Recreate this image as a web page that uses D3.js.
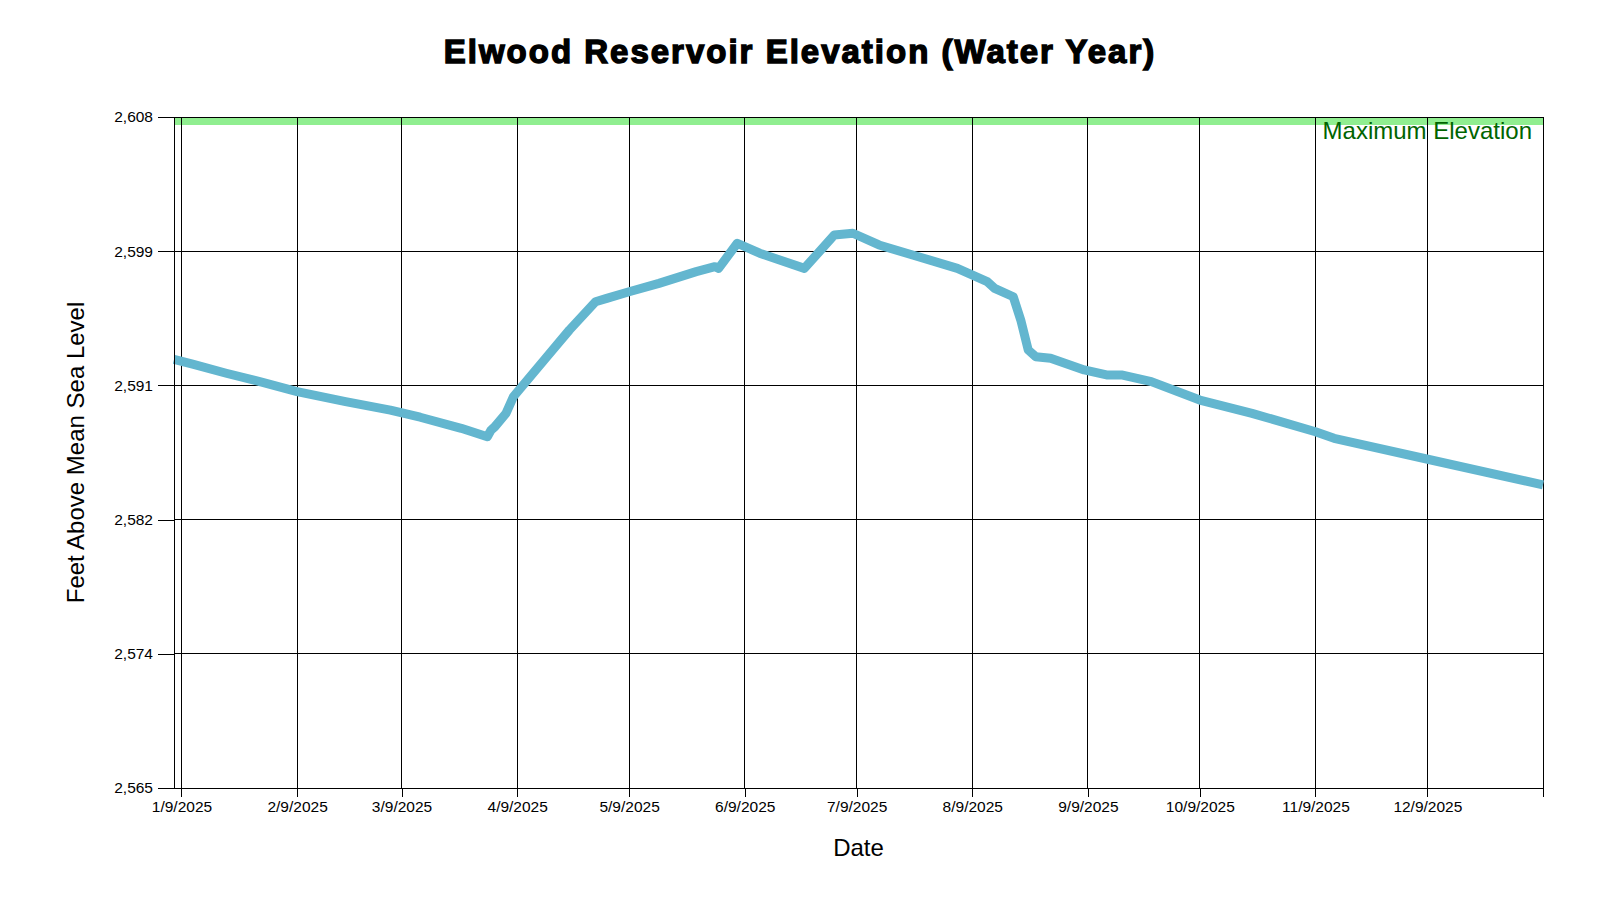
<!DOCTYPE html>
<html lang="en">
<head>
    <meta charset="utf-8">
    <script src="https://d3js.org/d3.v7.min.js"></script>
    <style>
        body { margin: 0; background: #fff; }
        text { font-family: "Liberation Sans", Arial, sans-serif; }
    </style>
</head>
<body>
    <div id="chart"></div>
    <script>
        // elevation readings (feet above mean sea level)
        const dates = ["2025-01-07", "2025-01-12", "2025-01-21", "2025-01-30", "2025-02-09", "2025-02-22",
            "2025-03-06", "2025-03-14", "2025-03-25", "2025-04-01", "2025-04-02", "2025-04-03", "2025-04-06",
            "2025-04-08", "2025-04-17", "2025-04-23", "2025-04-30", "2025-05-03", "2025-05-09", "2025-05-17",
            "2025-05-27", "2025-06-01", "2025-06-02", "2025-06-07", "2025-06-13", "2025-06-25", "2025-07-03",
            "2025-07-08", "2025-07-15", "2025-07-24", "2025-08-05", "2025-08-13", "2025-08-15", "2025-08-20",
            "2025-08-22", "2025-08-24", "2025-08-26", "2025-08-30", "2025-09-08", "2025-09-14", "2025-09-18",
            "2025-09-26", "2025-10-09", "2025-10-23", "2025-11-09", "2025-11-14", "2025-12-10", "2026-01-09"];
        const elevations = [2592.47, 2592.17, 2591.58, 2591.04, 2590.40, 2589.76,
            2589.22, 2588.76, 2588.05, 2587.51, 2587.94, 2588.15, 2589.01,
            2590.08, 2592.64, 2594.35, 2596.16, 2596.38, 2596.80, 2597.34,
            2598.09, 2598.41, 2598.30, 2599.91, 2599.27, 2598.30, 2600.44,
            2600.55, 2599.80, 2599.16, 2598.30, 2597.45, 2597.02, 2596.48,
            2594.99, 2593.07, 2592.64, 2592.54, 2591.79, 2591.47, 2591.47,
            2591.04, 2589.86, 2589.01, 2587.83, 2587.41, 2586.02, 2584.42];

        // axis ticks
        const xTickDates = ["2025-01-09", "2025-02-09", "2025-03-09", "2025-04-09", "2025-05-09", "2025-06-09",
            "2025-07-09", "2025-08-09", "2025-09-09", "2025-10-09", "2025-11-09", "2025-12-09"];
        const yTickValues = [2565, 2573.6, 2582.2, 2590.8, 2599.4, 2608];
        const yDomain = [2565, 2608];
        const maxElevation = 2608;

        const parse = d3.timeParse("%Y-%m-%d");
        const data = dates.map((d, i) => ({ date: parse(d), value: elevations[i] }));

        // sets the dimensions and margins of the graph
        const margin = { top: 117, right: 57, bottom: 112, left: 174 },
            width = 1600 - margin.left - margin.right,
            height = 900 - margin.top - margin.bottom;

        const root = d3.select("#chart")
            .append("svg")
            .attr("width", 1600)
            .attr("height", 900);

        const svg = root.append("g")
            .attr("transform", `translate(${margin.left}, ${margin.top})`);

        const x = d3.scaleTime()
            .domain(d3.extent(data, d => d.date))
            .range([0, width]);

        const y = d3.scaleLinear()
            .domain(yDomain)
            .range([height, 0]);

        svg.append("clipPath")
            .attr("id", "plotClip")
            .append("rect")
            .attr("width", width)
            .attr("height", height);

        // max elevation band
        svg.append("line")
            .attr("clip-path", "url(#plotClip)")
            .attr("x1", 0)
            .attr("x2", width)
            .attr("y1", y(maxElevation))
            .attr("y2", y(maxElevation))
            .attr("stroke", "#90ee90")
            .attr("stroke-width", 16);

        // gridlines
        svg.append("g")
            .selectAll("line")
            .data(yTickValues)
            .join("line")
            .attr("x1", 0)
            .attr("x2", width)
            .attr("y1", d => y(d))
            .attr("y2", d => y(d))
            .attr("stroke", "#000")
            .attr("shape-rendering", "crispEdges");

        svg.append("g")
            .selectAll("line")
            .data(xTickDates.map(parse))
            .join("line")
            .attr("x1", d => x(d))
            .attr("x2", d => x(d))
            .attr("y1", 0)
            .attr("y2", height)
            .attr("stroke", "#000")
            .attr("shape-rendering", "crispEdges");

        // right border with its outer tick
        svg.append("line")
            .attr("x1", width)
            .attr("x2", width)
            .attr("y1", 0)
            .attr("y2", height + 9)
            .attr("stroke", "#000")
            .attr("shape-rendering", "crispEdges");

        // the elevation line
        svg.append("path")
            .datum(data)
            .attr("fill", "none")
            .attr("stroke", "#63b6cf")
            .attr("stroke-width", 9)
            .attr("stroke-linejoin", "round")
            .attr("d", d3.line().x(d => x(d.date)).y(d => y(d.value)));

        svg.append("text")
            .attr("x", width - 11)
            .attr("y", y(maxElevation) + 22)
            .attr("text-anchor", "end")
            .attr("fill", "#006400")
            .style("font-size", "24px")
            .text("Maximum Elevation");

        // axes
        const xAxis = svg.append("g")
            .attr("transform", `translate(0, ${height})`)
            .call(d3.axisBottom(x)
                .tickValues(xTickDates.map(parse))
                .tickFormat(d3.timeFormat("%-m/%-d/%Y"))
                .tickSizeInner(9)
                .tickSizeOuter(0)
                .tickPadding(4));

        const yAxis = svg.append("g")
            .call(d3.axisLeft(y)
                .tickValues(yTickValues)
                .tickFormat(d3.format(",.0f"))
                .tickSizeInner(16)
                .tickSizeOuter(0)
                .tickPadding(5));

        [xAxis, yAxis].forEach(a => {
            a.selectAll("path, line").attr("stroke", "#000").attr("shape-rendering", "crispEdges");
            a.selectAll("text")
                .attr("fill", "#000")
                .style("font-family", "'Liberation Sans', Arial, sans-serif")
                .style("font-size", "15.5px");
        });

        // title and axis labels
        root.append("text")
            .attr("x", 800)
            .attr("y", 63)
            .attr("text-anchor", "middle")
            .style("font-size", "33px")
            .style("font-weight", "bold")
            .style("letter-spacing", "2px")
            .attr("stroke", "#000")
            .attr("stroke-width", 1.4)
            .text("Elwood Reservoir Elevation (Water Year)");

        root.append("text")
            .attr("x", margin.left + width / 2)
            .attr("y", 856)
            .attr("text-anchor", "middle")
            .style("font-size", "24px")
            .text("Date");

        root.append("text")
            .attr("transform", `translate(84, ${margin.top + height / 2}) rotate(-90)`)
            .attr("text-anchor", "middle")
            .style("font-size", "24px")
            .text("Feet Above Mean Sea Level");
    </script>
</body>
</html>
